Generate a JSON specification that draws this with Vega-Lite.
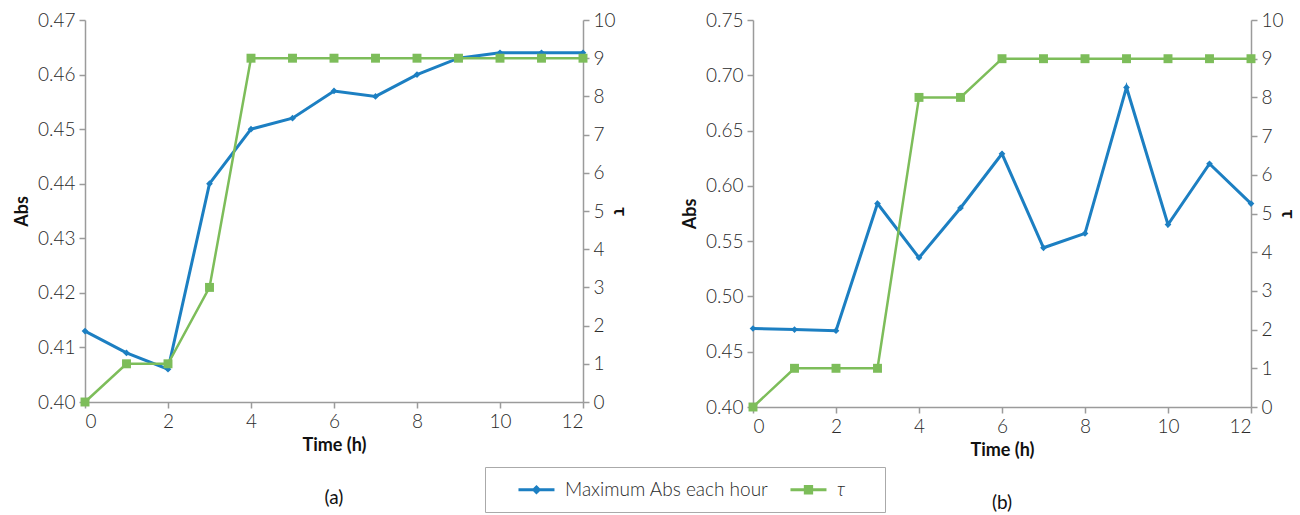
{
  "$schema": "https://vega.github.io/schema/vega-lite/v6.json",
  "background": "white",
  "padding": {"left": 13, "top": 11, "right": 5, "bottom": 5},
  "datasets": {
    "panelA": [
      {"t": 0, "abs": 0.413, "tau": 0},
      {"t": 1, "abs": 0.409, "tau": 1},
      {"t": 2, "abs": 0.406, "tau": 1},
      {"t": 3, "abs": 0.440, "tau": 3},
      {"t": 4, "abs": 0.450, "tau": 9},
      {"t": 5, "abs": 0.452, "tau": 9},
      {"t": 6, "abs": 0.457, "tau": 9},
      {"t": 7, "abs": 0.456, "tau": 9},
      {"t": 8, "abs": 0.460, "tau": 9},
      {"t": 9, "abs": 0.463, "tau": 9},
      {"t": 10, "abs": 0.464, "tau": 9},
      {"t": 11, "abs": 0.464, "tau": 9},
      {"t": 12, "abs": 0.464, "tau": 9}
    ],
    "panelB": [
      {"t": 0, "abs": 0.471, "tau": 0},
      {"t": 1, "abs": 0.470, "tau": 1},
      {"t": 2, "abs": 0.469, "tau": 1},
      {"t": 3, "abs": 0.584, "tau": 1},
      {"t": 4, "abs": 0.535, "tau": 8},
      {"t": 5, "abs": 0.580, "tau": 8},
      {"t": 6, "abs": 0.629, "tau": 9},
      {"t": 7, "abs": 0.544, "tau": 9},
      {"t": 8, "abs": 0.557, "tau": 9},
      {"t": 9, "abs": 0.689, "tau": 9},
      {"t": 10, "abs": 0.565, "tau": 9},
      {"t": 11, "abs": 0.620, "tau": 9},
      {"t": 12, "abs": 0.584, "tau": 9}
    ]
  },
  "config": {
    "view": {"stroke": null},
    "font": "Lato",
    "axis": {
      "grid": false,
      "domainColor": "#9b9b9b",
      "tickColor": "#9b9b9b",
      "domainWidth": 1.5,
      "tickWidth": 1.5,
      "tickSize": 6,
      "labelFontSize": 19,
      "labelFontWeight": 300,
      "labelColor": "#2a2a2a",
      "labelPadding": 4,
      "titleFontSize": 18,
      "titleFontWeight": "bold",
      "titleColor": "#111111"
    },
    "title": {"fontSize": 19, "fontWeight": "normal", "color": "#111111"}
  },
  "spacing": 53,
  "hconcat": [
    {
      "width": 498,
      "height": 382,
      "data": {"name": "panelA"},
      "title": {"text": "(a)", "orient": "bottom", "offset": 35},
      "encoding": {
        "x": {
          "field": "t", "type": "quantitative",
          "scale": {"domain": [0, 12], "nice": false},
          "axis": {"title": "Time (h)", "values": [0, 2, 4, 6, 8, 10, 12], "titlePadding": 5}
        }
      },
      "layer": [
        {
          "mark": {"type": "line", "strokeWidth": 3, "point": {"shape": "diamond", "size": 45, "filled": true}},
          "encoding": {
            "y": {
              "field": "abs", "type": "quantitative",
              "scale": {"domain": [0.40, 0.47], "zero": false, "nice": false},
              "axis": {"orient": "left", "title": "Abs", "values": [0.40, 0.41, 0.42, 0.43, 0.44, 0.45, 0.46, 0.47], "format": ".2f", "titlePadding": 6}
            },
            "color": {
              "datum": "Maximum Abs each hour", "type": "nominal",
              "scale": {"domain": ["Maximum Abs each hour", "τ"], "range": ["#1c7fc2", "#7dbd5a"]},
              "legend": {
                "title": null,
                "orient": "none",
                "legendX": 400,
                "legendY": 447,
                "direction": "horizontal",
                "strokeColor": "#aaaaaa",
                "padding": 12,
                "symbolSize": 324,
                "symbolStrokeWidth": 3,
                "labelOffset": 47,
                "labelLimit": 400,
                "labelFontSize": 19,
                "labelFontWeight": 300,
                "labelColor": "#2a2a2a",
                "columnPadding": 0,
                "encode": {
                  "symbols": {"update": {
                    "shape": {"signal": "datum.value === 'τ' ? 'M1.22,0H5.22M2.87,-0.35H3.57V0.35H2.87ZM9.7,0' : 'M1.22,0H5.22M3.22,-0.3L3.52,0L3.22,0.3L2.92,0Z'"},
                    "fill": {"signal": "datum.value === 'τ' ? '#7dbd5a' : '#1c7fc2'"},
                    "stroke": {"signal": "datum.value === 'τ' ? '#7dbd5a' : '#1c7fc2'"},
                    "opacity": {"value": 1}
                  }},
                  "labels": {"update": {
                    "fontStyle": {"signal": "datum.value === 'τ' ? 'italic' : 'normal'"}
                  }}
                }
              }
            }
          }
        },
        {
          "mark": {"type": "line", "strokeWidth": 2.5, "point": {"shape": "square", "size": 80, "filled": true}},
          "encoding": {
            "y": {
              "field": "tau", "type": "quantitative",
              "scale": {"domain": [0, 10], "nice": false},
              "axis": {"orient": "right", "title": "τ", "values": [0, 1, 2, 3, 4, 5, 6, 7, 8, 9, 10], "titlePadding": -6}
            },
            "color": {"datum": "τ", "type": "nominal"}
          }
        }
      ],
      "resolve": {"scale": {"y": "independent"}}
    },
    {
      "width": 498,
      "height": 387,
      "data": {"name": "panelB"},
      "title": {"text": "(b)", "orient": "bottom", "offset": 35},
      "encoding": {
        "x": {
          "field": "t", "type": "quantitative",
          "scale": {"domain": [0, 12], "nice": false},
          "axis": {"title": "Time (h)", "values": [0, 2, 4, 6, 8, 10, 12], "titlePadding": 5}
        }
      },
      "layer": [
        {
          "mark": {"type": "line", "strokeWidth": 3, "point": {"shape": "diamond", "size": 45, "filled": true}},
          "encoding": {
            "y": {
              "field": "abs", "type": "quantitative",
              "scale": {"domain": [0.40, 0.75], "zero": false, "nice": false},
              "axis": {"orient": "left", "title": "Abs", "values": [0.40, 0.45, 0.50, 0.55, 0.60, 0.65, 0.70, 0.75], "format": ".2f", "titlePadding": 6}
            },
            "color": {"datum": "Maximum Abs each hour", "type": "nominal"}
          }
        },
        {
          "mark": {"type": "line", "strokeWidth": 2.5, "point": {"shape": "square", "size": 80, "filled": true}},
          "encoding": {
            "y": {
              "field": "tau", "type": "quantitative",
              "scale": {"domain": [0, 10], "nice": false},
              "axis": {"orient": "right", "title": "τ", "values": [0, 1, 2, 3, 4, 5, 6, 7, 8, 9, 10], "titlePadding": -6}
            },
            "color": {"datum": "τ", "type": "nominal"}
          }
        }
      ],
      "resolve": {"scale": {"y": "independent"}}
    }
  ]
}
